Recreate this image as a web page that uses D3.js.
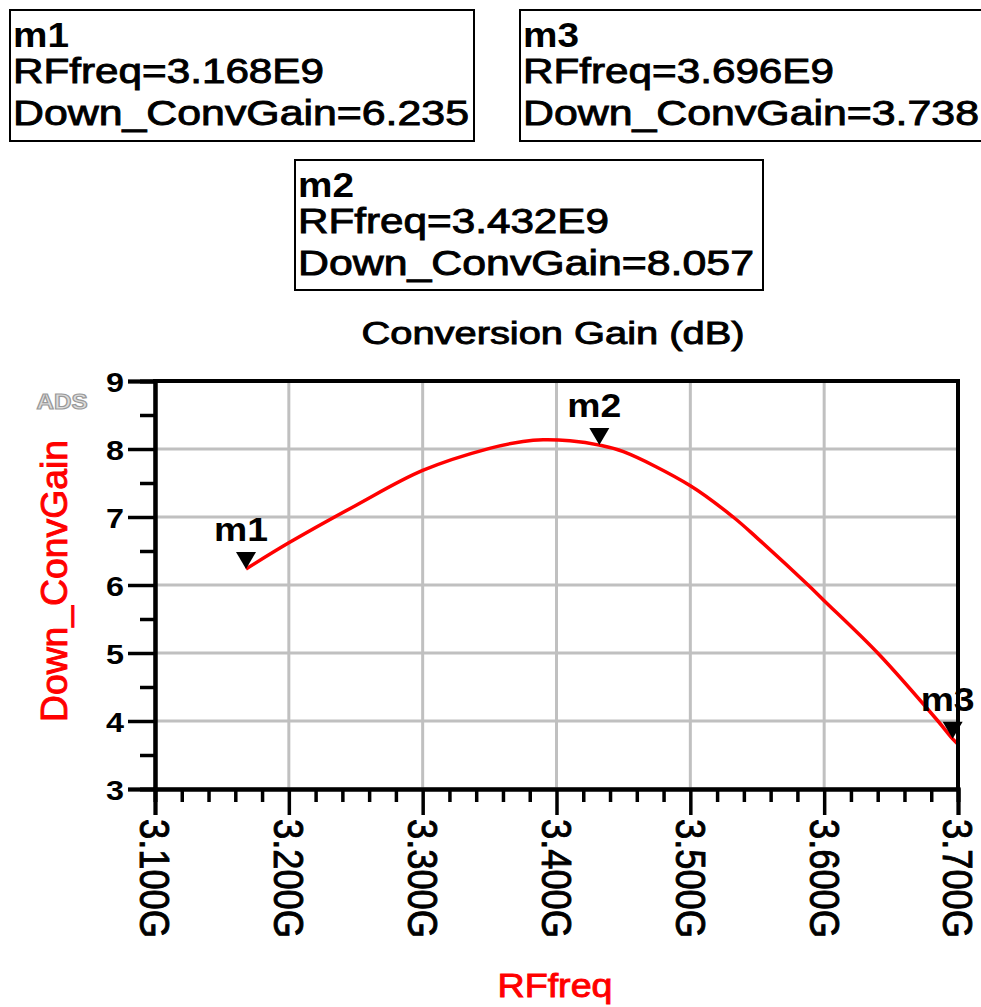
<!DOCTYPE html>
<html>
<head>
<meta charset="utf-8">
<script src="https://cdn.jsdelivr.net/npm/d3@7"></script>
<style>
  body { margin: 0; background: #fff; }
  svg { display: block; font-family: "Liberation Sans", Arial, sans-serif; }
  .heavy { stroke-width: 0.9px; paint-order: stroke; }
</style>
</head>
<body>
<svg id="chart" width="981" height="1007"></svg>
<script>
// curve (frequency in Hz, gain in dB)
var freq = [3.168e9, 3.2e9, 3.25e9, 3.3e9, 3.35e9, 3.375e9, 3.39e9, 3.41e9, 3.432e9, 3.45e9,
            3.5e9, 3.532e9, 3.55e9, 3.588e9, 3.6e9, 3.64e9, 3.685e9, 3.696e9, 3.7e9];
var gain = [6.235, 6.62, 7.17, 7.685, 8.01, 8.11, 8.135, 8.12, 8.057, 7.96,
            7.46, 7.0, 6.69, 6.0, 5.77, 5.0, 4.0, 3.738, 3.66];

var markerNames = ['m1', 'm2', 'm3'];
var markerFreq = [3.168e9, 3.432e9, 3.696e9];
var markerGain = [6.235, 8.057, 3.738];
var markerFreqText = ['3.168E9', '3.432E9', '3.696E9'];
var markerGainText = ['6.235', '8.057', '3.738'];

var xTicks = [3.1e9, 3.2e9, 3.3e9, 3.4e9, 3.5e9, 3.6e9, 3.7e9];
var xTickLabels = ['3.100G', '3.200G', '3.300G', '3.400G', '3.500G', '3.600G', '3.700G'];
var yTicks = [3, 4, 5, 6, 7, 8, 9];

var svg = d3.select('#chart');

var x = d3.scaleLinear().domain([3.1e9, 3.7e9]).range([155, 958]);
var y = d3.scaleLinear().domain([3, 9]).range([789, 381]);

var xMinor = d3.range(0, 31).map(function(i) { return 3.1e9 + i * 0.02e9; })
	.filter(function(v) { return xTicks.indexOf(Math.round(v / 1e7) * 1e7) < 0; });
var yMinor = d3.range(3.5, 9, 1);

// marker readout boxes
var boxes = [
	{ i: 0, x: 10, y: 10, w: 464, h: 131 },
	{ i: 2, x: 520, y: 10, w: 480, h: 131 },
	{ i: 1, x: 295, y: 160, w: 468, h: 130 }
];
boxes.forEach(function(b) {
	var g = svg.append('g').attr('transform', 'translate(' + b.x + ',' + b.y + ')');
	g.append('rect').attr('width', b.w).attr('height', b.h)
		.attr('fill', '#fff').attr('stroke', '#000').attr('stroke-width', 2);
	g.append('text').attr('x', 3).attr('y', 37).attr('font-size', 35).attr('font-weight', 'bold')
		.attr('textLength', 56).attr('lengthAdjust', 'spacingAndGlyphs')
		.text(markerNames[b.i]);
	g.append('text').attr('class', 'heavy').attr('stroke', '#000')
		.attr('x', 3).attr('y', 73).attr('font-size', 35)
		.attr('textLength', 311).attr('lengthAdjust', 'spacingAndGlyphs')
		.text('RFfreq=' + markerFreqText[b.i]);
	g.append('text').attr('class', 'heavy').attr('stroke', '#000')
		.attr('x', 3).attr('y', 115).attr('font-size', 35)
		.attr('textLength', 456).attr('lengthAdjust', 'spacingAndGlyphs')
		.text('Down_ConvGain=' + markerGainText[b.i]);
});

// title
svg.append('text').attr('class', 'heavy').attr('stroke', '#000')
	.attr('x', 553).attr('y', 344).attr('text-anchor', 'middle')
	.attr('font-size', 31).attr('textLength', 383).attr('lengthAdjust', 'spacingAndGlyphs')
	.text('Conversion Gain (dB)');

// ADS badge
svg.append('text').attr('x', 62).attr('y', 409).attr('text-anchor', 'middle')
	.attr('font-size', 22).attr('font-weight', 'bold')
	.attr('fill', '#dcdcdc').attr('stroke', '#999').attr('stroke-width', 1.2)
	.attr('textLength', 51).attr('lengthAdjust', 'spacingAndGlyphs')
	.text('ADS');

// grid
var grid = svg.append('g').attr('id', 'grid');
grid.selectAll('.gx').data(xTicks).join('line')
	.attr('x1', function(d) { return x(d); }).attr('x2', function(d) { return x(d); })
	.attr('y1', y(9)).attr('y2', y(3))
	.attr('stroke', '#c0c0c0').attr('stroke-width', 3);
grid.selectAll('.gy').data(yTicks).join('line')
	.attr('x1', x(3.1e9)).attr('x2', x(3.7e9))
	.attr('y1', function(d) { return y(d); }).attr('y2', function(d) { return y(d); })
	.attr('stroke', '#c0c0c0').attr('stroke-width', 3);

// curve
var line = d3.line()
	.x(function(d) { return x(d[0]); })
	.y(function(d) { return y(d[1]); })
	.curve(d3.curveCatmullRom.alpha(0.5));
svg.append('path').datum(d3.zip(freq, gain))
	.attr('d', line).attr('fill', 'none')
	.attr('stroke', '#ff0000').attr('stroke-width', 3.5);

// markers
var markers = svg.append('g').attr('id', 'markers');
markerNames.forEach(function(name, i) {
	var px = x(markerFreq[i]), py = y(markerGain[i]);
	markers.append('path')
		.attr('d', 'M' + px + ',' + py + 'L' + (px - 10) + ',' + (py - 17) + 'L' + (px + 10) + ',' + (py - 17) + 'Z')
		.attr('fill', '#000');
	markers.append('text').attr('x', px - 5).attr('y', py - 28)
		.attr('text-anchor', 'middle').attr('font-size', 33).attr('font-weight', 'bold')
		.attr('textLength', 54).attr('lengthAdjust', 'spacingAndGlyphs')
		.text(name);
});

// axes
var xAxisG = svg.append('g').attr('id', 'x-axis').attr('transform', 'translate(0,' + y(3) + ')');
xAxisG.append('g')
	.call(d3.axisBottom(x).tickValues(xMinor).tickSize(13).tickFormat(''));
xAxisG.append('g')
	.call(d3.axisBottom(x).tickValues(xTicks).tickSize(26)
		.tickFormat(function(d, i) { return xTickLabels[i]; }));
xAxisG.selectAll('text')
	.attr('class', 'heavy').attr('stroke', '#000')
	.attr('transform', 'rotate(90)')
	.attr('x', 30).attr('y', 0).attr('dy', '0.36em')
	.style('text-anchor', 'start')
	.attr('font-size', 42).attr('fill', '#000')
	.attr('textLength', 119).attr('lengthAdjust', 'spacingAndGlyphs');

var yAxisG = svg.append('g').attr('id', 'y-axis').attr('transform', 'translate(' + x(3.1e9) + ',0)');
yAxisG.append('g')
	.call(d3.axisLeft(y).tickValues(yMinor).tickSize(15).tickFormat(''));
yAxisG.append('g')
	.call(d3.axisLeft(y).tickValues(yTicks).tickSize(27).tickPadding(4).tickFormat(d3.format('d')));
yAxisG.selectAll('text')
	.attr('font-size', 28).attr('font-weight', 'bold').attr('fill', '#000')
	.attr('textLength', 18).attr('lengthAdjust', 'spacingAndGlyphs')
	.attr('dy', '0.36em');

svg.selectAll('#x-axis path.domain, #y-axis path.domain')
	.attr('stroke', '#000').attr('stroke-width', 4);
svg.selectAll('#x-axis .tick line, #y-axis .tick line')
	.attr('stroke', '#000').attr('stroke-width', 3.5);

// top and right frame edges
svg.append('line').attr('x1', x(3.1e9) - 2).attr('x2', x(3.7e9) + 2)
	.attr('y1', y(9)).attr('y2', y(9)).attr('stroke', '#000').attr('stroke-width', 4);
svg.append('line').attr('x1', x(3.7e9)).attr('x2', x(3.7e9))
	.attr('y1', y(9)).attr('y2', y(3)).attr('stroke', '#000').attr('stroke-width', 4);

// axis titles
svg.append('text').attr('class', 'heavy').attr('stroke', '#ff0000')
	.attr('transform', 'translate(67,581) rotate(-90)')
	.attr('text-anchor', 'middle').attr('font-size', 36).attr('fill', '#ff0000')
	.attr('textLength', 282).attr('lengthAdjust', 'spacingAndGlyphs')
	.text('Down_ConvGain');
svg.append('text').attr('class', 'heavy').attr('stroke', '#ff0000')
	.attr('x', 555).attr('y', 997)
	.attr('text-anchor', 'middle').attr('font-size', 33).attr('fill', '#ff0000')
	.attr('textLength', 115).attr('lengthAdjust', 'spacingAndGlyphs')
	.text('RFfreq');
</script>
</body>
</html>
